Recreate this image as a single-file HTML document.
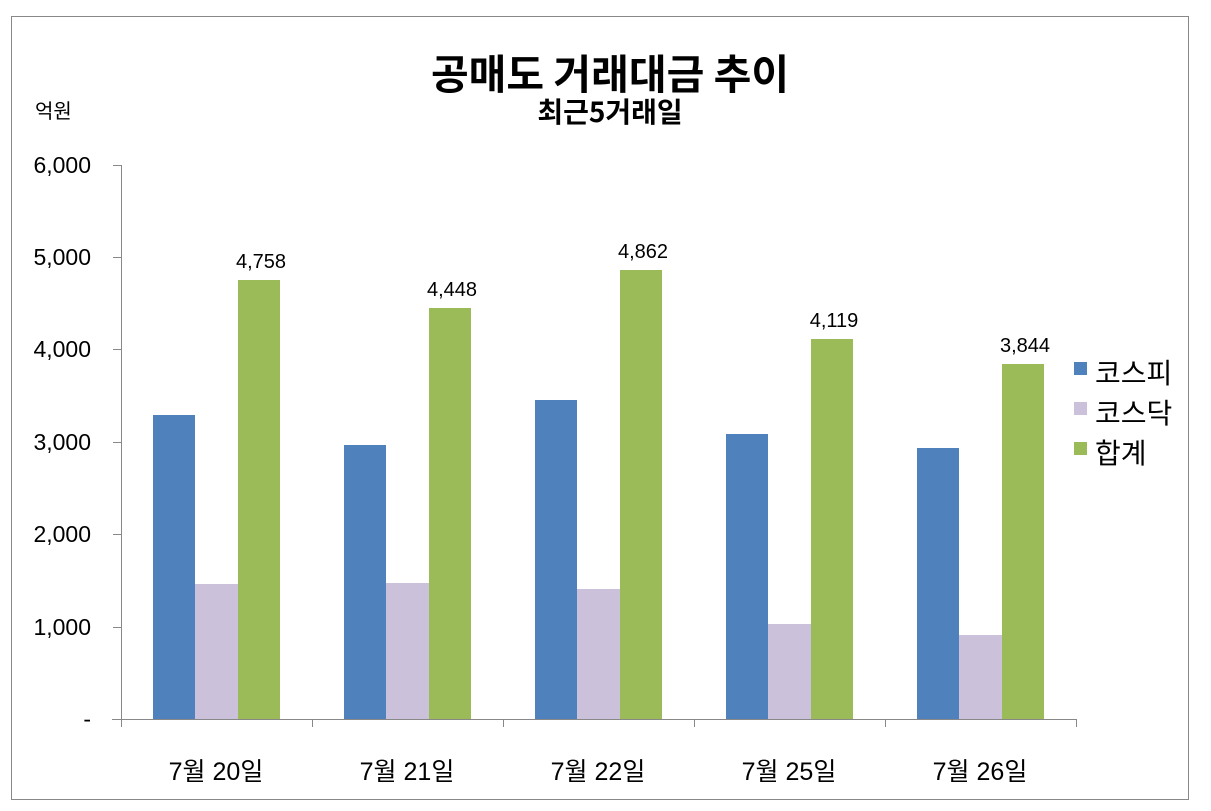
<!DOCTYPE html>
<html><head><meta charset="utf-8"><style>
body{margin:0;background:#fff;}
svg{display:block;font-family:"Liberation Sans","Noto Sans CJK KR",sans-serif;}
</style></head><body>
<svg width="1211" height="811" xmlns="http://www.w3.org/2000/svg">
<rect x="11.5" y="16.5" width="1177" height="783" fill="#fff" stroke="#888" stroke-width="1"/>
<text x="610" y="89" text-anchor="middle" font-size="41" font-weight="bold" font-family="Noto Sans CJK KR,sans-serif">공매도 거래대금 추이</text>
<text x="610" y="122" text-anchor="middle" font-size="28" font-weight="bold" font-family="Noto Sans CJK KR,sans-serif">최근5거래일</text>
<text x="35" y="118" font-size="20">억원</text>
<g stroke="#888" stroke-width="1" fill="none">
<line x1="121.5" y1="165" x2="121.5" y2="727"/>
<line x1="112" y1="719.5" x2="1076" y2="719.5"/>
<line x1="113" y1="165.5" x2="121" y2="165.5"/>
<line x1="113" y1="257.5" x2="121" y2="257.5"/>
<line x1="113" y1="349.5" x2="121" y2="349.5"/>
<line x1="113" y1="442.5" x2="121" y2="442.5"/>
<line x1="113" y1="534.5" x2="121" y2="534.5"/>
<line x1="113" y1="627.5" x2="121" y2="627.5"/>
<line x1="312.5" y1="719" x2="312.5" y2="727"/>
<line x1="503.5" y1="719" x2="503.5" y2="727"/>
<line x1="694.5" y1="719" x2="694.5" y2="727"/>
<line x1="885.5" y1="719" x2="885.5" y2="727"/>
<line x1="1076.5" y1="719" x2="1076.5" y2="727"/>
</g>
<g font-size="23" text-anchor="end">
<text x="91" y="173">6,000</text>
<text x="91" y="265">5,000</text>
<text x="91" y="357">4,000</text>
<text x="91" y="450">3,000</text>
<text x="91" y="542">2,000</text>
<text x="91" y="635">1,000</text>
<text x="91" y="727">-</text>
</g>
<g>
<rect x="153" y="415" width="42" height="304" fill="#4F81BD"/>
<rect x="195" y="584" width="43" height="135" fill="#CCC1DA"/>
<rect x="238" y="280" width="42" height="439" fill="#9BBB59"/>
<rect x="344" y="445" width="42" height="274" fill="#4F81BD"/>
<rect x="386" y="583" width="43" height="136" fill="#CCC1DA"/>
<rect x="429" y="308" width="42" height="411" fill="#9BBB59"/>
<rect x="535" y="400" width="42" height="319" fill="#4F81BD"/>
<rect x="577" y="589" width="43" height="130" fill="#CCC1DA"/>
<rect x="620" y="270" width="42" height="449" fill="#9BBB59"/>
<rect x="726" y="434" width="42" height="285" fill="#4F81BD"/>
<rect x="768" y="624" width="43" height="95" fill="#CCC1DA"/>
<rect x="811" y="339" width="42" height="380" fill="#9BBB59"/>
<rect x="917" y="448" width="42" height="271" fill="#4F81BD"/>
<rect x="959" y="635" width="43" height="84" fill="#CCC1DA"/>
<rect x="1002" y="364" width="42" height="355" fill="#9BBB59"/>
</g>
<g font-size="20" text-anchor="middle">
<text x="261" y="268">4,758</text>
<text x="452" y="296">4,448</text>
<text x="643" y="258">4,862</text>
<text x="834" y="327">4,119</text>
<text x="1025" y="352">3,844</text>
</g>
<g font-size="25" text-anchor="middle">
<text x="216" y="780">7월 20일</text>
<text x="407" y="780">7월 21일</text>
<text x="598" y="780">7월 22일</text>
<text x="789" y="780">7월 25일</text>
<text x="980" y="780">7월 26일</text>
</g>
<rect x="1074" y="362" width="13" height="13" fill="#4F81BD"/>
<rect x="1074" y="402" width="13" height="13" fill="#CCC1DA"/>
<rect x="1074" y="442" width="13" height="13" fill="#9BBB59"/>
<g font-size="28">
<text x="1095" y="383">코스피</text>
<text x="1095" y="423">코스닥</text>
<text x="1095" y="463">합계</text>
</g>
</svg>
</body></html>
